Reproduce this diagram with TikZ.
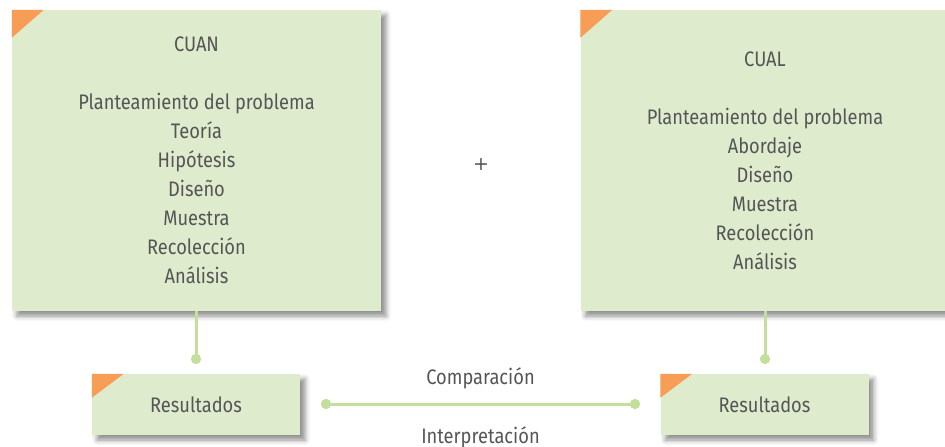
\documentclass[tikz,border=0pt]{standalone}
\usepackage{fontspec}
\setmainfont{Fira Sans}[FakeStretch=0.87]
\newfontfamily\plusfont{DejaVu Sans}
\usetikzlibrary{shadows.blur,calc}
\definecolor{boxg}{HTML}{DFEBCD}
\definecolor{orng}{HTML}{F79D56}
\definecolor{lineg}{HTML}{C4DE9C}
\definecolor{txt}{HTML}{555555}
\tikzset{
  shad/.style={blur shadow={shadow xshift=5pt, shadow yshift=-5pt, shadow blur radius=5pt, shadow opacity=45}},
  bigbox/.style={fill=boxg, shad, minimum width=369pt, minimum height=301pt, align=center, inner sep=0pt, text=txt, font=\fontsize{21}{29}\selectfont},
  resbox/.style={fill=boxg, shad, minimum width=208pt, minimum height=61pt, inner sep=0pt, text=txt, font=\fontsize{21}{29}\selectfont},
  dot/.style={circle, fill=lineg, inner sep=0pt, minimum size=10pt},
  conn/.style={draw=lineg, line width=3pt},
  corner/.style={fill=orng},
  lbl/.style={text=txt, font=\fontsize{21}{29}\selectfont, inner sep=0pt}
}
\begin{document}
\begin{tikzpicture}[x=1pt,y=-1pt]
\useasboundingbox (0,0) rectangle (945,447);
\node[bigbox] (cuan) at (196.5,160.5) {CUAN\\[29pt]Planteamiento del problema\\Teoría\\Hipótesis\\Diseño\\Muestra\\Recolección\\Análisis};
\node[bigbox] (cual) at (765,160.5) {CUAL\\[29pt]Planteamiento del problema\\Abordaje\\Diseño\\Muestra\\Recolección\\Análisis};
\fill[corner] (cuan.north west) -- ++(32,0) -- ++(-32,28) -- cycle;
\fill[corner] (cual.north west) -- ++(32,0) -- ++(-32,28) -- cycle;
\node[lbl, font=\plusfont\fontsize{19}{19}\selectfont] (plus) at (481,165) {+};
\node[resbox] (r1) at (196,404.5) {Resultados};
\node[resbox] (r2) at (764.5,404.5) {Resultados};
\fill[corner] (r1.north west) -- ++(32,0) -- ++(-32,24) -- cycle;
\fill[corner] (r2.north west) -- ++(32,0) -- ++(-32,24) -- cycle;
\node[dot] (d1) at (196,359) {};
\node[dot] (d2) at (765,359) {};
\node[dot] (d3) at (326,404) {};
\node[dot] (d4) at (635,404) {};
\draw[conn] (cuan.south -| d1) -- (d1.center);
\draw[conn] (cual.south -| d2) -- (d2.center);
\draw[conn] (d3.center) -- (d4.center);
\node[dot] at (d1) {};
\node[dot] at (d2) {};
\node[dot] at (d3) {};
\node[dot] at (d4) {};
\node[lbl] (comp) at (480.5,378) {Comparación};
\node[lbl] (interp) at (480.5,437) {Interpretación};
\end{tikzpicture}
\end{document}
